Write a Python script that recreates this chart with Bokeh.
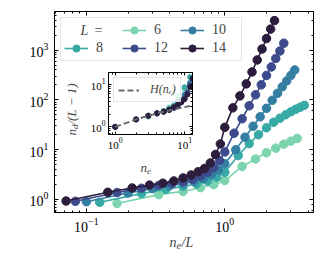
import math
from bokeh.plotting import figure
from bokeh.models import (LogAxis, LogTicker, FixedTicker, LogTickFormatter, Legend, LegendItem,
                          Label, GridBox, Range1d, CustomJSTickFormatter)
from bokeh.embed import file_html
from bokeh.resources import INLINE

# ---- data ----
L_list = [6, 8, 10, 12, 14]

ne_6 = [1, 2, 3, 4, 5, 6, 8, 10, 12, 14, 16, 18, 20]
ndL_6 = [0.83, 1.25, 1.45, 1.72, 1.98, 2.4, 4.6, 6.5, 8.7, 10.7, 12.9, 14.8, 16.8]

ne_8 = [1, 2, 3, 4, 5, 6, 7, 8, 10, 12, 14, 16, 18, 20, 22, 24, 26, 28, 30]
ndL_8 = [0.875, 1.31, 1.6, 1.83, 2.05, 2.35, 2.8, 3.5, 7.6, 13.2, 20, 27.5, 35.5,
         42.7, 50, 57.5, 64.6, 70.8, 77.6]

ne_10 = [1, 2, 3, 4, 5, 6, 7, 8, 9, 10, 12, 14, 16, 18, 20, 22, 24, 26, 28, 30, 32]
ndL_10 = [0.9, 1.35, 1.65, 1.88, 2.08, 2.3, 2.6, 3.1, 3.9, 5.2, 10, 17.8, 29.5,
          45.7, 67.6, 97.7, 135, 182, 240, 309, 398]

ne_12 = [1, 2, 3, 4, 5, 6, 7, 8, 9, 10, 11, 12, 14, 16, 18, 20, 22, 24, 26, 28, 30, 32]
ndL_12 = [0.917, 1.375, 1.68, 1.91, 2.1, 2.3, 2.55, 2.95, 3.5, 4.4, 6.0, 9.0, 21.4,
          41.7, 75.9, 126, 200, 309, 457, 676, 955, 1370]

ne_14 = [1, 2, 3, 4, 5, 6, 7, 8, 9, 10, 11, 12, 13, 14, 16, 18, 20, 22, 24, 26, 28, 30, 32]
ndL_14 = [0.93, 1.39, 1.70, 1.94, 2.12, 2.35, 2.7, 3.1, 3.6, 4.2, 5.4, 8.0, 13, 28,
          69, 120, 209, 363, 631, 1047, 1698, 2630, 3890]

H_ne = [1, 2, 3, 4, 5, 6, 7, 8, 9, 10, 11, 12, 13, 14]
H_vals = [1.0, 1.5, 1.833, 2.083, 2.283, 2.45, 2.593, 2.718, 2.829, 2.929, 3.020,
          3.103, 3.180, 3.252]

main_x_ticks = [0.1, 1]
inset_ticks = [1, 10]

series = {6: (ne_6, ndL_6), 8: (ne_8, ndL_8), 10: (ne_10, ndL_10),
          12: (ne_12, ndL_12), 14: (ne_14, ndL_14)}
colors = {6: "#7bd4ad", 8: "#38aaa6", 10: "#347ea2", 12: "#3d4a8c", 14: "#2c1d3c"}

FONT = "Liberation Serif"


def minor_log(lo_exp, hi_exp):
    return [m * 10.0 ** e for e in range(lo_exp, hi_exp + 1) for m in range(2, 10)]


def make_ticker(major, lo_exp, hi_exp):
    return FixedTicker(ticks=major, minor_ticks=minor_log(lo_exp, hi_exp))


# ---- main figure ----
W, H = 307, 243
p = figure(width=W, height=H, x_axis_type="log", y_axis_type="log",
           x_range=Range1d(0.0589, 4.37), y_range=Range1d(0.547, 5930),
           output_backend="svg", toolbar_location=None,
           min_border_left=46, min_border_right=1, min_border_top=3, min_border_bottom=39)
p.margin = (8, 0, 0, 8)
p.xgrid.visible = False
p.ygrid.visible = False
p.outline_line_color = "black"
p.outline_line_width = 1
p.background_fill_color = "white"
p.border_fill_color = "white"


def style_axis(ax, fs, standoff, tin, tmin):
    ax.axis_line_color = "black"
    ax.major_tick_in = tin
    ax.major_tick_out = 0
    ax.minor_tick_in = tmin
    ax.minor_tick_out = 0
    ax.major_tick_line_color = "black"
    ax.minor_tick_line_color = "black"
    ax.major_label_text_font = FONT
    ax.major_label_text_color = "black"
    ax.major_label_standoff = standoff
    ax.major_label_text_font_size = fs


def mirror_axis(fig, side, ticker, tin, tmin):
    ax = LogAxis(ticker=ticker, formatter=CustomJSTickFormatter(code="return ''"))
    ax.axis_line_color = "black"
    ax.major_tick_in = tin
    ax.major_tick_out = 0
    ax.minor_tick_in = tmin
    ax.minor_tick_out = 0
    ax.major_label_standoff = 0
    ax.major_label_text_font_size = "1px"
    fig.add_layout(ax, side)


p.xaxis[0].ticker = make_ticker(main_x_ticks, -2, 0)
p.xaxis[0].formatter = LogTickFormatter()
style_axis(p.xaxis[0], "14px", 5, 4, 2)
style_axis(p.yaxis[0], "14px", 6, 4, 2)
mirror_axis(p, "right", LogTicker(), 4, 2)
mirror_axis(p, "above", make_ticker(main_x_ticks, -2, 0), 4, 2)

lines, dots = {}, {}
for L in L_list:
    ne, ndl = series[L]
    x = [n / L for n in ne]
    lines[L] = p.line(x, ndl, line_color=colors[L], line_width=1.6)
    dots[L] = p.scatter(x, ndl, size=8.5, fill_color=colors[L], line_color=colors[L])

dummy = p.line([1, 1], [1, 1], line_alpha=0)
items = [LegendItem(label=" ", renderers=[dummy]),
         LegendItem(label="8", renderers=[lines[8], dots[8]]),
         LegendItem(label="6", renderers=[lines[6], dots[6]]),
         LegendItem(label="12", renderers=[lines[12], dots[12]]),
         LegendItem(label="10", renderers=[lines[10], dots[10]]),
         LegendItem(label="14", renderers=[lines[14], dots[14]])]
leg = Legend(items=items, location="top_left", orientation="vertical", ncols=3,
             glyph_width=24, glyph_height=18, label_height=18, label_width=26,
             label_standoff=8, spacing=0, padding=3, margin=6,
             label_text_font=FONT, label_text_font_size="14px",
             border_line_color="#cccccc", border_line_width=1,
             background_fill_color="white", background_fill_alpha=0.8)
p.add_layout(leg)

# ---- inset ----
inset = figure(width=132, height=104, x_axis_type="log", y_axis_type="log",
               x_range=Range1d(0.80, 13.0), y_range=Range1d(0.66, 19.3),
               output_backend="svg", toolbar_location=None,
               min_border_left=38, min_border_right=2, min_border_top=2, min_border_bottom=30,
               border_fill_color=None, background_fill_color="white")
inset.margin = (69, 0, 0, 62)
inset.xgrid.visible = False
inset.ygrid.visible = False
inset.outline_line_color = "black"
inset.xaxis[0].ticker = make_ticker(inset_ticks, -1, 1)
inset.yaxis[0].ticker = make_ticker(inset_ticks, -1, 1)
inset.xaxis[0].formatter = LogTickFormatter()
inset.yaxis[0].formatter = LogTickFormatter()
style_axis(inset.xaxis[0], "11px", 3, 3, 2)
style_axis(inset.yaxis[0], "11px", 3, 3, 2)
mirror_axis(inset, "right", make_ticker(inset_ticks, -1, 1), 3, 2)
mirror_axis(inset, "above", make_ticker(inset_ticks, -1, 1), 3, 2)

for L in L_list:
    ne, ndl = series[L]
    yv = [v * L / (L - 1) for v in ndl]
    inset.scatter(ne, yv, size=5, fill_color=colors[L], line_color=colors[L])

hl = inset.line(H_ne, H_vals, line_color="#6a6a6a", line_width=2, line_dash="6 3")
ileg = Legend(items=[LegendItem(label="H(nₑ)", renderers=[hl])], location="top_left",
              glyph_width=21, glyph_height=12, label_height=12, label_standoff=11,
              padding=4, margin=5, spacing=0,
              label_text_font=FONT, label_text_font_style="italic", label_text_font_size="12px",
              border_line_color="#cccccc", background_fill_color="white",
              background_fill_alpha=0.8)
inset.add_layout(ileg)


def overlay(w, h, top, left, **kw):
    f = figure(title=None, output_backend="svg", toolbar_location=None,
               x_axis_location=None, y_axis_location=None,
               min_border=0, min_border_left=0, min_border_right=0,
               min_border_top=0, min_border_bottom=0,
               background_fill_color=None, border_fill_color=None, outline_line_color=None,
               **kw)
    f.margin = (top, 0, 0, left)
    f.xgrid.visible = False
    f.ygrid.visible = False
    return f


def lab(fig, x, y, t, fs, italic=True, angle=0.0, units="canvas"):
    fig.add_layout(Label(x=x, y=y, x_units=units, y_units=units, text=t,
                         text_font=FONT, text_font_style="italic" if italic else "normal",
                         text_font_size=fs, text_baseline="middle", angle=angle))


# ---- transparent overlay carrying the composed (sub-scripted) titles ----
ov = overlay(W, H, 8, 8, frame_width=W, frame_height=H,
             x_range=Range1d(0, W), y_range=Range1d(H, 0))

# legend header "L ="
lab(ov, 72, 22, "L", "14px")
lab(ov, 86, 22, "=", "14px", italic=False)

# main x title
lab(ov, 161, 234, "n", "14px")
lab(ov, 168, 237, "e", "10px")
lab(ov, 173, 234, "/L", "14px")

# inset axis titles
lab(ov, 132, 159, "n", "13px")
lab(ov, 138.5, 162, "e", "9px")

lab(ov, 63, 127, "n", "13px", angle=math.pi / 2)
lab(ov, 66.5, 120.5, "d", "9px", angle=math.pi / 2)
lab(ov, 63, 116, "/(L − 1)", "13px", angle=math.pi / 2)

# main y title in its own small transparent box (anchored at its centre)
yt = overlay(30, 60, 75, 4, width=30, height=60,
             x_range=Range1d(0, 30), y_range=Range1d(60, 0))
lab(yt, 14, 42.5, "n", "14px", angle=math.pi / 2, units="data")
lab(yt, 17.5, 35.5, "d", "10px", angle=math.pi / 2, units="data")
lab(yt, 14, 30.5, "/L", "14px", angle=math.pi / 2, units="data")

grid = GridBox(children=[(p, 0, 0), (inset, 0, 0), (ov, 0, 0), (yt, 0, 0)])
open("out.html", "w").write(file_html(grid, INLINE))
